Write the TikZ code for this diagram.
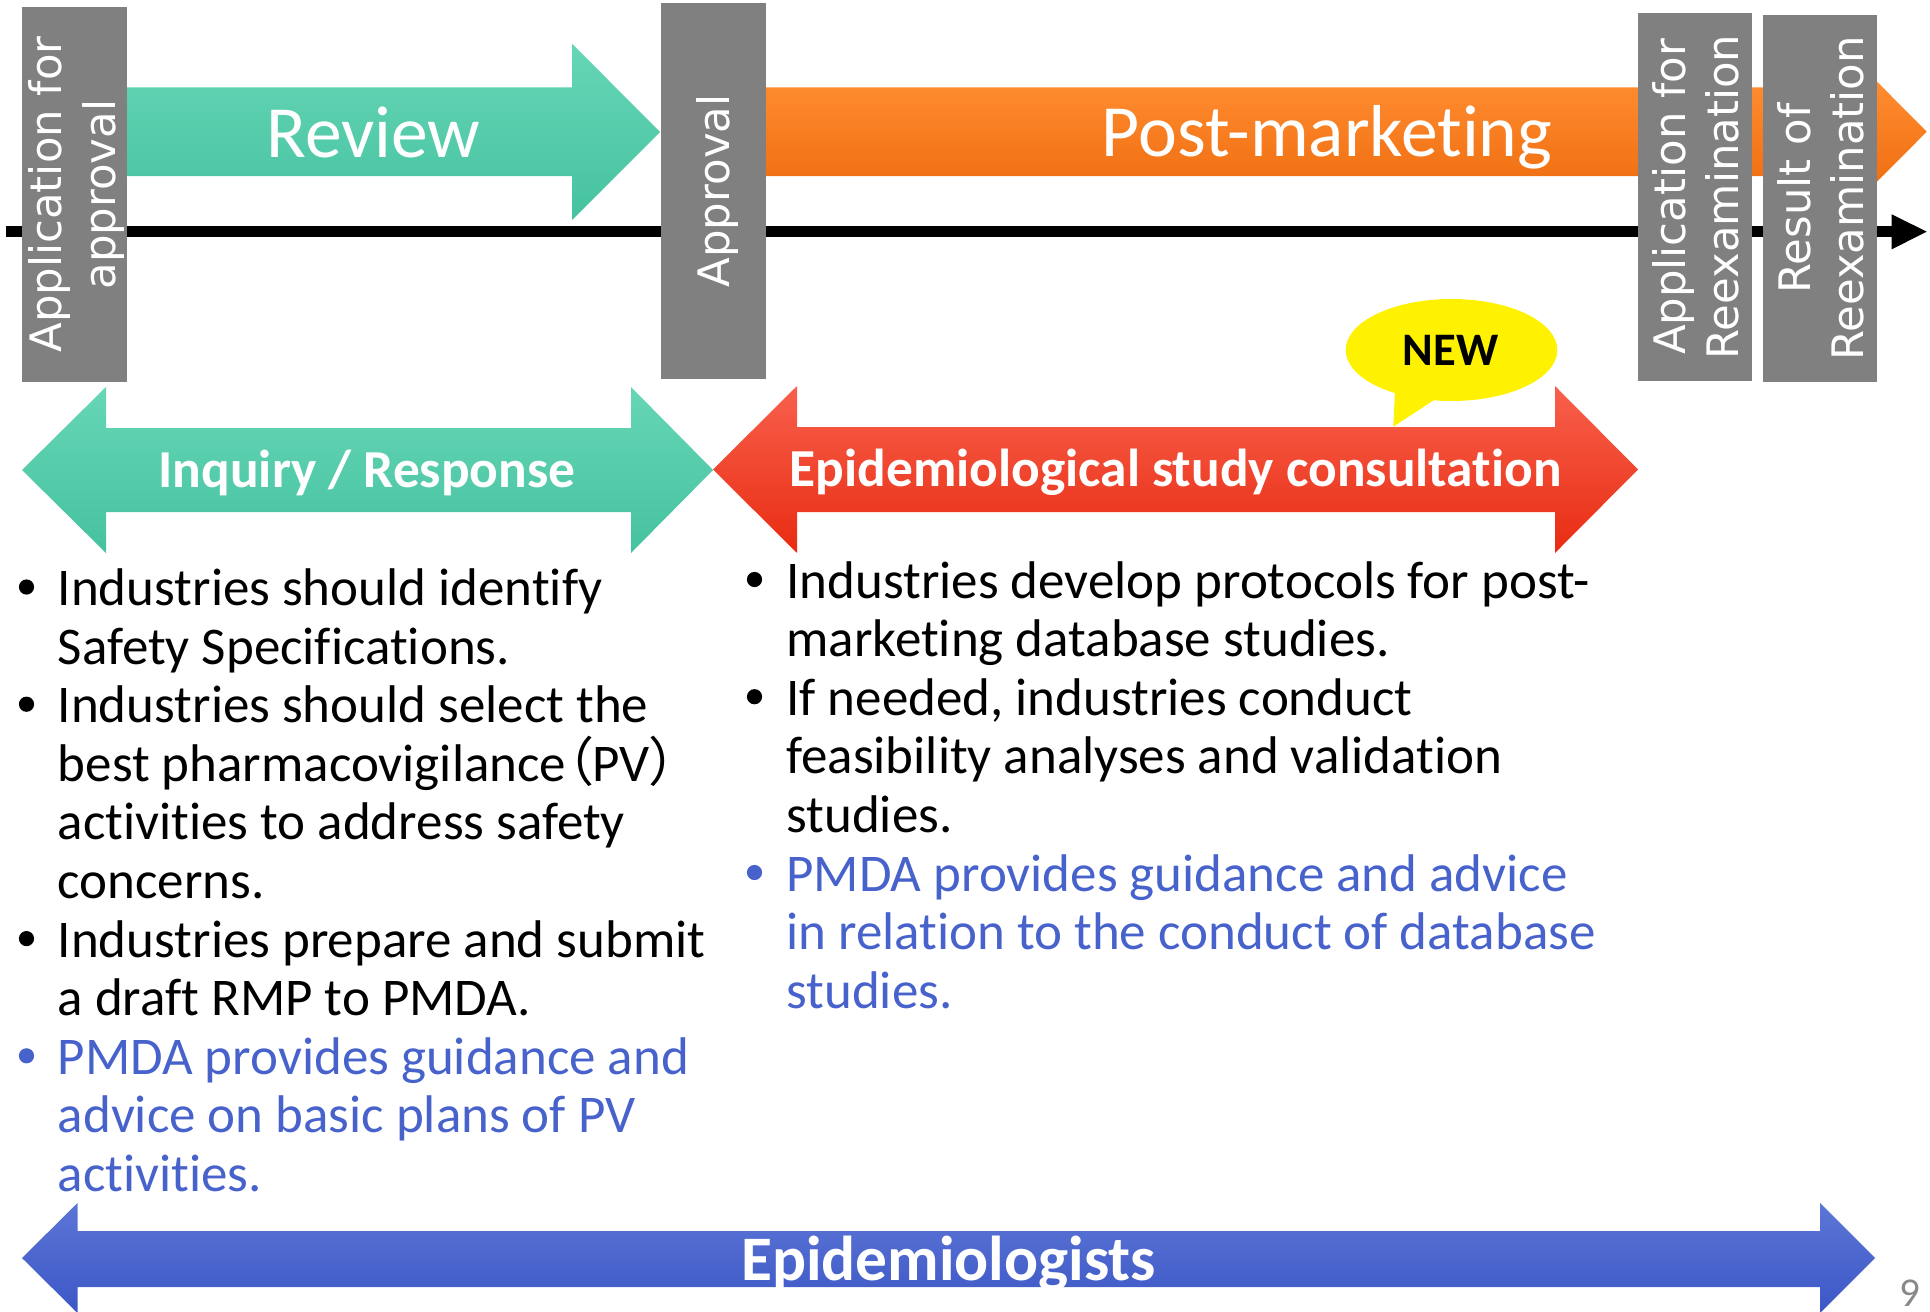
\documentclass[tikz,border=0pt]{standalone}
\usepackage{fontspec}
\setmainfont[RawFeature={-liga}]{Carlito}
\newfontfamily\vfont{DejaVu Sans}
\newfontfamily\cjkfont[RawFeature=+palt]{Noto Sans CJK JP}
\definecolor{tealtop}{RGB}{102,214,182}
\definecolor{tealbot}{RGB}{70,194,160}
\definecolor{orgtop}{RGB}{255,140,48}
\definecolor{orgbot}{RGB}{240,112,18}
\definecolor{redtop}{RGB}{248,96,76}
\definecolor{redbot}{RGB}{232,44,18}
\definecolor{blutop}{RGB}{92,118,214}
\definecolor{blubot}{RGB}{60,86,198}
\definecolor{boxgray}{RGB}{128,128,128}
\definecolor{pmdablue}{RGB}{72,98,204}
\definecolor{pagegray}{RGB}{137,137,137}
\begin{document}
\begin{tikzpicture}[x=0.5pt,y=-0.5pt,
  graybox/.style={fill=boxgray},
  vlabel/.style={rotate=90, text=white, align=center, inner sep=0pt,
    font=\vfont\fontsize{21.7}{26.75}\selectfont},
  biglabel/.style={anchor=base, text=white, inner sep=0pt, font=\fontsize{36.8}{40}\selectfont},
  arrowlabel/.style={anchor=base, text=white, inner sep=0pt, font=\bfseries\fontsize{26.7}{30}\selectfont},
  bodytext/.style={anchor=base west, inner sep=0pt, font=\fontsize{26.5}{29.3}\selectfont},
  bluetext/.style={bodytext, text=pmdablue},
  blackdot/.style={fill=black},
  bluedot/.style={fill=pmdablue}
]
\useasboundingbox (0,0) rectangle (1930,1311);

% timeline
\draw[line width=5.6pt] (6,231.7) -- (1892,231.7);
\fill (1891.7,214.3) -- (1926.7,231.7) -- (1891.7,249.3) -- cycle;

% Review arrow
\shade[top color=tealtop, bottom color=tealbot]
  (127,87.5) -- (572,87.5) -- (572,43.6) -- (660,132) -- (572,220) -- (572,176) -- (127,176) -- cycle;
% Post-marketing arrow
\shade[top color=orgtop, bottom color=orgbot]
  (766,87.5) -- (1877,87.5) -- (1877,81.7) -- (1926.7,131.7) -- (1877,181.7) -- (1877,176) -- (766,176) -- cycle;

% gray milestone boxes
\fill[graybox] (22,7) rectangle (127,382);
\fill[graybox] (661,3) rectangle (766,379);
\fill[graybox] (1638,13) rectangle (1752,381);
\fill[graybox] (1763,15) rectangle (1877,382);

\node[vlabel] (appl) at (76.5,194.5) {Application for\\approval};
\node[vlabel] (appr) at (718,191) {Approval};
\node[vlabel] (reapp) at (1696,197) {Application for\\Reexamination};
\node[vlabel] (reres) at (1821,198.5) {Result of\\Reexamination};

\node[biglabel] (review) at (373.5,157) {Review};
\node[biglabel] (post) at (1327,156) {Post-marketing};

% Inquiry / Response double arrow
\shade[top color=tealtop, bottom color=tealbot]
  (22,470) -- (106,387) -- (106,428) -- (631,428) -- (631,387) -- (713,470)
  -- (631,553) -- (631,512) -- (106,512) -- (106,553) -- cycle;
\node[arrowlabel] (inq) at (367,487.5) {Inquiry / Response};

% Epidemiological study consultation double arrow
\shade[top color=redtop, bottom color=redbot]
  (713,469.5) -- (797,386) -- (797,427) -- (1555,427) -- (1555,386) -- (1638,469.5)
  -- (1555,553) -- (1555,512) -- (797,512) -- (797,553) -- cycle;
\node[arrowlabel] (epi) at (1175.5,486.5) {Epidemiological study consultation};

% NEW bubble
\fill[yellow] (1395,390) -- (1393.3,426.7) -- (1437,398) -- cycle;
\fill[yellow] (1451.5,350) ellipse [x radius=52.9pt, y radius=25.5pt];
\node[anchor=base, inner sep=0pt, font=\bfseries\fontsize{23.3}{26}\selectfont] (new) at (1450.5,365) {NEW};

% left column text
\fill[blackdot] (26.5,587) circle [radius=3.8pt];
\fill[blackdot] (26.5,704.2) circle [radius=3.8pt];
\fill[blackdot] (26.5,938.6) circle [radius=3.8pt];
\fill[bluedot] (26.5,1055.8) circle [radius=3.8pt];
\node[bodytext] (l1) at (57.4,605.5) {Industries should identify};
\node[bodytext] (l2) at (57.4,664.1) {Safety Specifications.};
\node[bodytext] (l3) at (57.4,722.7) {Industries should select the};
\node[bodytext] (l4) at (57.4,781.3) {best pharmacovigilance{\cjkfont （}PV{\cjkfont ）}};
\node[bodytext] (l5) at (57.4,839.9) {activities to address safety};
\node[bodytext] (l6) at (57.4,898.5) {concerns.};
\node[bodytext] (l7) at (57.4,957.1) {Industries prepare and submit};
\node[bodytext] (l8) at (57.4,1015.7) {a draft RMP to PMDA.};
\node[bluetext] (l9) at (57.4,1074.3) {PMDA provides guidance and};
\node[bluetext] (l10) at (57.4,1132.9) {advice on basic plans of PV};
\node[bluetext] (l11) at (57.4,1191.5) {activities.};

% right column text
\fill[blackdot] (754.5,579.5) circle [radius=3.8pt];
\fill[blackdot] (754.5,696.7) circle [radius=3.8pt];
\fill[bluedot] (754.5,872.5) circle [radius=3.8pt];
\node[bodytext] (r1) at (786,598) {Industries develop protocols for post-};
\node[bodytext] (r2) at (786,656.6) {marketing database studies.};
\node[bodytext] (r3) at (786,715.2) {If needed, industries conduct};
\node[bodytext] (r4) at (786,773.8) {feasibility analyses and validation};
\node[bodytext] (r5) at (786,832.4) {studies.};
\node[bluetext] (r6) at (786,891) {PMDA provides guidance and advice};
\node[bluetext] (r7) at (786,949.6) {in relation to the conduct of database};
\node[bluetext] (r8) at (786,1008.2) {studies.};

% Epidemiologists double arrow
\shade[top color=blutop, bottom color=blubot]
  (22,1258) -- (77.5,1203) -- (77.5,1231) -- (1820,1231) -- (1820,1203) -- (1875,1258)
  -- (1820,1313) -- (1820,1287) -- (77.5,1287) -- (77.5,1313) -- cycle;
\node[anchor=base, text=white, inner sep=0pt, font=\bfseries\fontsize{31.7}{34}\selectfont] (epis) at (948.5,1280) {Epidemiologists};

% page number
\node[anchor=base, text=pagegray, inner sep=0pt, font=\fontsize{20.5}{22}\selectfont] (pnum) at (1910,1306) {9};
\end{tikzpicture}
\end{document}
